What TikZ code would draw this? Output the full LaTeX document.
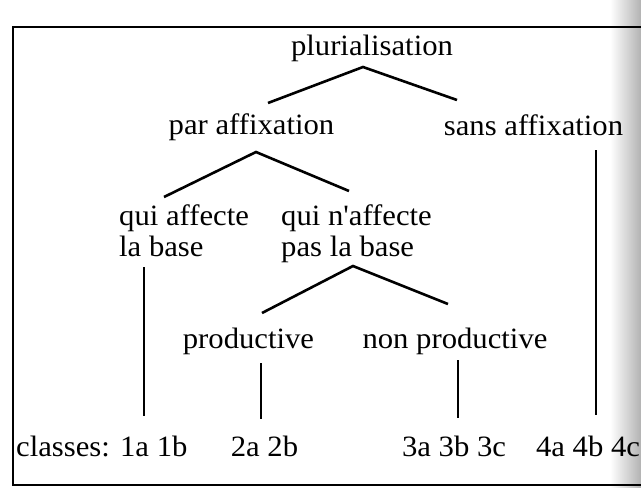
\documentclass[tikz,border=0pt]{standalone}
\usepackage{fontspec}
\newfontfamily\tnr{Liberation Serif}[FakeStretch=1.04]
\usetikzlibrary{calc}
\begin{document}
\begin{tikzpicture}[x=1pt,y=-1pt,
  lbl/.style={inner sep=0pt, font=\tnr\fontsize{29.5}{31}\selectfont},
  fork/.style={line width=2.6pt},
  stem/.style={line width=1.8pt},
  frame/.style={line width=1.8pt}]
\useasboundingbox (0,0) rectangle (641,488);
\fill[white] (0,0) rectangle (641,488);
\shade[left color=white, right color=black!30] (610,0) rectangle (641,488);
\draw[frame] (13,27) rectangle (660,485);
% labels
\node[lbl, anchor=base] (plur) at (372,55) {plurialisation};
\node[lbl, anchor=base] (par) at (251.5,134) {par affixation};
\node[lbl, anchor=base] (sans) at (533.5,135) {sans affixation};
\node[lbl, anchor=base west, align=left] (qa) at (119,256) {qui affecte\\la base};
\node[lbl, anchor=base west, align=left] (qn) at (281,256) {qui n'affecte\\pas la base};
\node[lbl, anchor=base] (prod) at (248.5,348) {productive};
\node[lbl, anchor=base] (nprod) at (455,348) {non productive};
\node[lbl, anchor=base west] (c1) at (16,456) {classes: 1a 1b};
\node[lbl, anchor=base] (c2) at (264.5,456) {2a 2b};
\node[lbl, anchor=base] (c3) at (454,456) {3a 3b 3c};
\node[lbl, anchor=base] (c4) at (588,456) {4a 4b 4c};
% forks
\draw[fork] ($(par.base)+(16.5,-31)$) -- ($(plur.base)+(-9,12)$) -- ($(sans.base)+(-76.5,-35)$);
\draw[fork] ($(qa.base west)+(45,-59)$) -- ($(par.base)+(4.5,18)$) -- ($(qn.base west)+(68,-65)$);
\draw[fork] ($(prod.base)+(13.5,-35)$) -- ($(qn.base west)+(72,10)$) -- ($(nprod.base)+(-7,-44)$);
% stems
\draw[stem] ($(qa.base west)+(25,11)$) -- ($(c1.base west)+(128,-40)$);
\draw[stem] ($(prod.base)+(12.5,15)$) -- ($(c2.base)+(-3.5,-37)$);
\draw[stem] ($(nprod.base)+(3,12)$) -- ($(c3.base)+(4,-38)$);
\draw[stem] ($(sans.base)+(62.5,15)$) -- ($(c4.base)+(8,-41)$);
\end{tikzpicture}
\end{document}
